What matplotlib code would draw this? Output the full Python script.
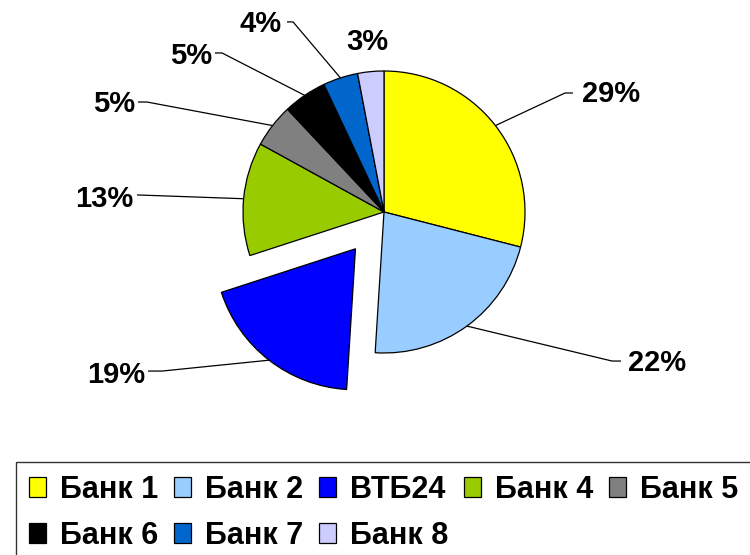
import numpy as np
import matplotlib
matplotlib.use("Agg")
import matplotlib.pyplot as plt
from matplotlib.patches import Patch

banks = ["Банк 1", "Банк 2", "ВТБ24", "Банк 4", "Банк 5", "Банк 6", "Банк 7", "Банк 8"]
shares = [29, 22, 19, 13, 5, 5, 4, 3]
colors = ["#FFFF00", "#99CCFF", "#0000FF", "#99CC00", "#808080", "#000000", "#0066CC", "#CCCCFF"]
explode = [0, 0, 0.33, 0, 0, 0, 0, 0]

# label placement (data units, pie radius = 1), leader elbow and leader end
label_pos = [(1.404, 0.837), (1.730, -1.071), (-1.695, -1.156), (-1.780, 0.092),
             (-1.766, 0.766), (-1.220, 1.106), (-0.723, 1.333), (-0.121, 1.206)]
label_ha = ["left", "left", "right", "right", "right", "right", "right", "center"]
elbow = [(1.284, 0.844), (1.617, -1.057), (-1.574, -1.128), None,
         (-1.681, 0.780), (-1.149, 1.128), (-0.645, 1.348), None]
line_end = [(1.340, 0.844), (1.681, -1.057), (-1.674, -1.128), (-1.752, 0.121),
            (-1.745, 0.780), (-1.199, 1.128), (-0.688, 1.348), None]

plt.rcParams["font.family"] = ["Liberation Sans", "DejaVu Sans"]

fig = plt.figure(figsize=(7.5, 5.55), dpi=100)
ax = fig.add_axes([0, 0, 1, 1])

wedges, _ = ax.pie(shares, colors=colors, explode=explode, startangle=90,
                   counterclock=False, radius=1.0,
                   wedgeprops=dict(edgecolor="black", linewidth=0.9))

ax.set_xlim(-384 / 141, (750 - 384) / 141)
ax.set_ylim((212 - 555) / 141, 212 / 141)
ax.set_aspect("equal")
ax.axis("off")

for w, val, pos, ha, elb, end in zip(wedges, shares, label_pos, label_ha, elbow, line_end):
    mid = np.deg2rad((w.theta1 + w.theta2) / 2)
    cx, cy = w.center
    px, py = cx + np.cos(mid), cy + np.sin(mid)
    if end is not None:
        xs, ys = [px], [py]
        if elb is not None:
            xs.append(elb[0]); ys.append(elb[1])
        xs.append(end[0]); ys.append(end[1])
        ax.plot(xs, ys, color="black", linewidth=0.9, solid_capstyle="butt")
    ax.text(pos[0], pos[1], f"{val}%", ha=ha, va="center",
            fontsize=21, fontweight="bold")

# legend in row-major order: columns hold (1,6), (2,7), (3,8), (4), (5)
order = [0, 5, 1, 6, 2, 7, 3, 4]
handles = [Patch(facecolor=colors[i], edgecolor="black", linewidth=0.9) for i in order]
labels = [banks[i] for i in order]
leg = fig.legend(handles, labels, ncol=5, loc="upper left",
                 bbox_to_anchor=(16 / 750, 1 - 462 / 555),
                 prop=dict(size=22, weight="bold"), frameon=True, fancybox=False,
                 handlelength=0.56, handleheight=0.62, handletextpad=0.45,
                 columnspacing=0.52, labelspacing=0.53, borderpad=0.42,
                 borderaxespad=0)
leg.get_frame().set_edgecolor("black")
leg.get_frame().set_linewidth(1.0)

fig.savefig("out.png", dpi=100)
